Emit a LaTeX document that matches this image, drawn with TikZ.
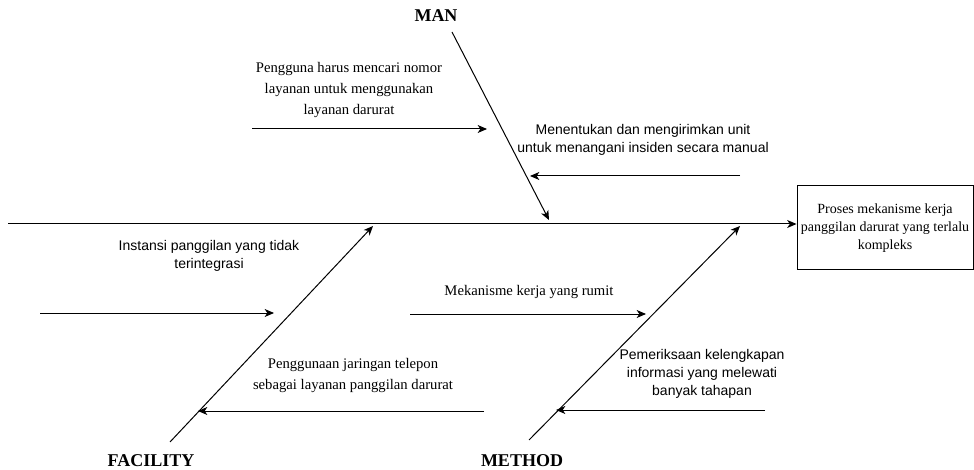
\documentclass[tikz,border=0pt]{standalone}
\usepackage{fontspec}
\setmainfont{Liberation Serif}
\setsansfont{Liberation Sans}
\usetikzlibrary{positioning,calc,arrows.meta}

\begin{document}
\begin{tikzpicture}[
    x=0.75pt, y=-0.75pt,
    >={Stealth[length=7pt,width=6pt,inset=2pt]},
    line width=0.75pt,
    cause/.style={font=\bfseries\fontsize{13.5}{15}\selectfont},
    serifnote/.style={align=center, font=\fontsize{11}{15.75}\selectfont},
    sansnote/.style={align=center, font=\sffamily\fontsize{10.5}{13.5}\selectfont},
    effect/.style={draw, rectangle, align=center, minimum width=132pt, minimum height=63pt, inner sep=1pt, font=\fontsize{10.5}{13.5}\selectfont}
]
    \useasboundingbox (0,0) rectangle (974,470);

    % head and spine
    \node[effect] (E) at (885,228) {Proses mekanisme kerja\\panggilan darurat yang terlalu\\kompleks};
    \coordinate (S) at (8,224);
    \draw[->] (S) -- (S -| E.west);

    % main bones
    \node[cause] (man) at (436,16) {MAN};
    \node[cause] (facility) at (151,461) {FACILITY};
    \node[cause] (method) at (522,461) {METHOD};
    \coordinate (man0) at (452,32);
    \coordinate (man1) at (549,220);
    \coordinate (fac0) at (170,442);
    \coordinate (fac1) at (373,226);
    \coordinate (met0) at (529,440);
    \coordinate (met1) at (740,226);
    \draw[->] (man0) -- (man1);
    \draw[->] (fac0) -- (fac1);
    \draw[->] (met0) -- (met1);

    % MAN
    \node[serifnote] (c1) at (349,90) {Pengguna harus mencari nomor\\layanan untuk menggunakan\\layanan darurat};
    \coordinate (c1a) at (252,129);
    \coordinate (c1b) at (487,129);
    \draw[->] (c1a) -- (c1b);
    \node[sansnote] (c2) at (643,140) {Menentukan dan mengirimkan unit\\untuk menangani insiden secara manual};
    \coordinate (c2a) at (740,176);
    \coordinate (c2b) at (530,176);
    \draw[->] (c2a) -- (c2b);

    % FACILITY
    \node[sansnote] (c3) at (209,256) {Instansi panggilan yang tidak\\terintegrasi};
    \coordinate (c3a) at (40,313);
    \coordinate (c3b) at (274,313);
    \draw[->] (c3a) -- (c3b);
    \node[serifnote] (c4) at (353,375) {Penggunaan jaringan telepon\\sebagai layanan panggilan darurat};
    \coordinate (c4a) at (484,411);
    \coordinate (c4b) at (198,411);
    \draw[->] (c4a) -- (c4b);

    % METHOD
    \node[serifnote] (c5) at (529,292) {Mekanisme kerja yang rumit};
    \coordinate (c5a) at (410,314);
    \coordinate (c5b) at (646,314);
    \draw[->] (c5a) -- (c5b);
    \node[sansnote] (c6) at (702,374) {Pemeriksaan kelengkapan\\informasi yang melewati\\banyak tahapan};
    \coordinate (c6a) at (765,410);
    \coordinate (c6b) at (556,410);
    \draw[->] (c6a) -- (c6b);
\end{tikzpicture}
\end{document}
